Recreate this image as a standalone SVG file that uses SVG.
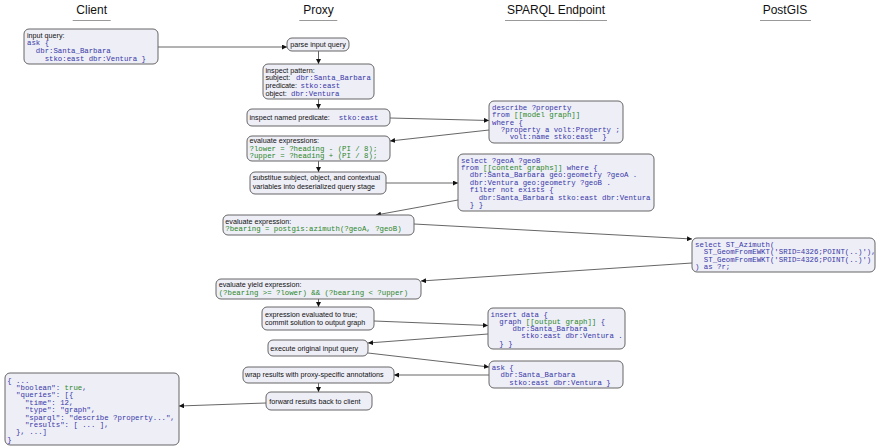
<svg xmlns="http://www.w3.org/2000/svg" width="876" height="448" viewBox="0 0 876 448">
  <defs>
    <style>
      .bg { fill: #ffffff; }
      .hd { font-family: "Liberation Sans", Arial, sans-serif; font-size: 12px; fill: #111; text-anchor: middle; }
      .ul { stroke: #999; stroke-width: 1; }
      .box { fill: #eeeef6; stroke: #666; stroke-width: 1; }
      .t { font-family: "Liberation Sans", Arial, sans-serif; font-size: 7.2px; fill: #111; }
      .c { font-family: "Liberation Mono", "Courier New", monospace; font-size: 7.35px; fill: #3737a8; white-space: pre; }
      .g { fill: #2a872a; }
      .edge { stroke: #555; stroke-width: 0.9; fill: none; marker-end: url(#arr); }
    </style>
    <marker id="arr" viewBox="0 0 6 6" refX="6" refY="3" markerWidth="5" markerHeight="5" markerUnits="userSpaceOnUse" orient="auto">
      <path d="M0,0 L6,3 L0,6 z" fill="#111"/>
    </marker>
  </defs>

  <rect class="bg" x="0" y="0" width="876" height="448"/>

  <!-- lane headers -->
  <g id="lanes">
    <text class="hd" x="91.7" y="13.5">Client</text>
    <line class="ul" x1="72.7" y1="20.5" x2="110.7" y2="20.5"/>
    <text class="hd" x="318.5" y="13.5">Proxy</text>
    <line class="ul" x1="299.3" y1="20.5" x2="337.3" y2="20.5"/>
    <text class="hd" x="556" y="13.5">SPARQL Endpoint</text>
    <line class="ul" x1="505" y1="20.5" x2="607" y2="20.5"/>
    <text class="hd" x="785" y="13.5">PostGIS</text>
    <line class="ul" x1="760" y1="20.5" x2="811" y2="20.5"/>
  </g>

  <!-- connectors -->
  <g id="connectors">
    <line class="edge" x1="158" y1="47" x2="287" y2="47"/>
    <line class="edge" x1="318.5" y1="51" x2="318.5" y2="64"/>
    <line class="edge" x1="318.5" y1="99" x2="318.5" y2="109"/>
    <line class="edge" x1="390" y1="118" x2="489" y2="120.5"/>
    <line class="edge" x1="489" y1="130" x2="390" y2="141"/>
    <line class="edge" x1="318.5" y1="161" x2="318.5" y2="172"/>
    <line class="edge" x1="386" y1="183" x2="458" y2="183"/>
    <line class="edge" x1="458" y1="200" x2="376" y2="215"/>
    <line class="edge" x1="414" y1="224" x2="692" y2="239"/>
    <line class="edge" x1="692" y1="263" x2="421" y2="281"/>
    <line class="edge" x1="318.5" y1="299" x2="318.5" y2="307"/>
    <line class="edge" x1="374" y1="321" x2="488" y2="325.5"/>
    <line class="edge" x1="488" y1="334" x2="368" y2="343"/>
    <line class="edge" x1="368" y1="353" x2="489" y2="367"/>
    <line class="edge" x1="489" y1="375" x2="394" y2="375"/>
    <line class="edge" x1="318.5" y1="383" x2="318.5" y2="392"/>
    <line class="edge" x1="266" y1="403" x2="179" y2="406"/>
  </g>

  <!-- client -->
  <g id="client-query">
    <rect class="box" x="24" y="29" width="134" height="35" rx="5"/>
    <text class="t" x="27" y="37.8">input query:</text>
    <text class="c" x="27" y="45.4" xml:space="preserve">ask {</text>
    <text class="c" x="27" y="53" xml:space="preserve">  dbr:Santa_Barbara</text>
    <text class="c" x="27" y="60.6" xml:space="preserve">    stko:east dbr:Ventura }</text>
  </g>

  <g id="client-result">
    <rect class="box" x="5" y="373" width="174" height="72" rx="5"/>
    <text class="c" x="7.3" y="382.6" xml:space="preserve">{ ...</text>
    <text class="c" x="7.3" y="390" xml:space="preserve">  "boolean": <tspan class="g">true</tspan>,</text>
    <text class="c" x="7.3" y="397.4" xml:space="preserve">  "queries": [{</text>
    <text class="c" x="7.3" y="404.8" xml:space="preserve">    "time": 12,</text>
    <text class="c" x="7.3" y="412.2" xml:space="preserve">    "type": "graph",</text>
    <text class="c" x="7.3" y="419.6" xml:space="preserve">    "sparql": "describe ?property...",</text>
    <text class="c" x="7.3" y="427" xml:space="preserve">    "results": [ ... ],</text>
    <text class="c" x="7.3" y="434.4" xml:space="preserve">  }, ...]</text>
    <text class="c" x="7.3" y="441.8" xml:space="preserve">}</text>
  </g>

  <!-- proxy -->
  <g id="parse">
    <rect class="box" x="287" y="38" width="62" height="13" rx="5"/>
    <text class="t" x="318" y="47" text-anchor="middle">parse input query</text>
  </g>

  <g id="inspect-pattern">
    <rect class="box" x="263" y="64" width="111" height="35" rx="5"/>
    <text class="t" x="265.5" y="72.8">inspect pattern:</text>
    <text class="t" x="265.5" y="80.4">subject:</text>
    <text class="c" x="296" y="80.4">dbr:Santa_Barbara</text>
    <text class="t" x="265.5" y="88">predicate:</text>
    <text class="c" x="300.5" y="88">stko:east</text>
    <text class="t" x="265.5" y="95.7">object:</text>
    <text class="c" x="291" y="95.7">dbr:Ventura</text>
  </g>

  <g id="inspect-predicate">
    <rect class="box" x="247" y="109" width="143" height="17" rx="5"/>
    <text class="t" x="249.5" y="119.5">inspect named predicate:</text>
    <text class="c" x="338.7" y="119.5">stko:east</text>
  </g>

  <g id="evaluate-expressions">
    <rect class="box" x="247" y="136" width="143" height="25" rx="5"/>
    <text class="t" x="249.5" y="143">evaluate expressions:</text>
    <text class="c g" x="249.5" y="150.8">?lower = ?heading - (PI / 8);</text>
    <text class="c g" x="249.5" y="158.4">?upper = ?heading + (PI / 8);</text>
  </g>

  <g id="substitute">
    <rect class="box" x="250" y="172" width="136" height="22" rx="5"/>
    <text class="t" x="252.7" y="180.3">substitue subject, object, and contextual</text>
    <text class="t" x="252.7" y="188.8">variables into deserialized query stage</text>
  </g>

  <g id="evaluate-bearing">
    <rect class="box" x="223" y="215" width="191" height="20" rx="5"/>
    <text class="t" x="225.3" y="223.6">evaluate expression:</text>
    <text class="c g" x="225.3" y="231.4">?bearing = postgis:azimuth(?geoA, ?geoB)</text>
  </g>

  <g id="evaluate-yield">
    <rect class="box" x="216" y="279" width="205" height="20" rx="5"/>
    <text class="t" x="218.7" y="287.2">evaluate yield expression:</text>
    <text class="c g" x="218.7" y="294.8">(?bearing &gt;= ?lower) &amp;&amp; (?bearing &lt; ?upper)</text>
  </g>

  <g id="commit">
    <rect class="box" x="262" y="307" width="112" height="23" rx="5"/>
    <text class="t" x="265" y="317">expression evaluated to true;</text>
    <text class="t" x="265" y="325">commit solution to output graph</text>
  </g>

  <g id="execute">
    <rect class="box" x="268" y="340" width="100" height="16" rx="5"/>
    <text class="t" x="270.3" y="350.6">execute original input query</text>
  </g>

  <g id="wrap">
    <rect class="box" x="243" y="367" width="151" height="16" rx="5"/>
    <text class="t" x="245" y="377.2">wrap results with proxy-specific annotations</text>
  </g>

  <g id="forward">
    <rect class="box" x="266" y="392" width="106" height="18" rx="5"/>
    <text class="t" x="269.3" y="404">forward results back to client</text>
  </g>

  <!-- SPARQL endpoint -->
  <g id="describe">
    <rect class="box" x="489" y="101" width="134" height="42" rx="5"/>
    <text class="c" x="492" y="110" xml:space="preserve">describe ?property</text>
    <text class="c" x="492" y="117.3" xml:space="preserve">from <tspan class="g">[[model graph]]</tspan></text>
    <text class="c" x="492" y="124.6" xml:space="preserve">where {</text>
    <text class="c" x="492" y="131.9" xml:space="preserve">  ?property a volt:Property ;</text>
    <text class="c" x="492" y="139.3" xml:space="preserve">    volt:name stko:east  }</text>
  </g>

  <g id="select-geometry">
    <rect class="box" x="458" y="154" width="196" height="57" rx="5"/>
    <text class="c" x="461" y="162.5" xml:space="preserve">select ?geoA ?geoB</text>
    <text class="c" x="461" y="169.9" xml:space="preserve">from <tspan class="g">[[content graphs]]</tspan> where {</text>
    <text class="c" x="461" y="177.3" xml:space="preserve">  dbr:Santa_Barbara geo:geometry ?geoA .</text>
    <text class="c" x="461" y="184.8" xml:space="preserve">  dbr:Ventura geo:geometry ?geoB .</text>
    <text class="c" x="461" y="192.2" xml:space="preserve">  filter not exists {</text>
    <text class="c" x="461" y="199.6" xml:space="preserve">    dbr:Santa_Barbara stko:east dbr:Ventura</text>
    <text class="c" x="461" y="207" xml:space="preserve">  } }</text>
  </g>

  <g id="insert">
    <rect class="box" x="488" y="308" width="137" height="41" rx="5"/>
    <text class="c" x="490.5" y="316.5" xml:space="preserve">insert data {</text>
    <text class="c" x="490.5" y="323.8" xml:space="preserve">  graph <tspan class="g">[[output graph]]</tspan> {</text>
    <text class="c" x="490.5" y="331.1" xml:space="preserve">     dbr:Santa_Barbara</text>
    <text class="c" x="490.5" y="338.4" xml:space="preserve">       stko:east dbr:Ventura .</text>
    <text class="c" x="490.5" y="345.7" xml:space="preserve">  } }</text>
  </g>

  <g id="ask">
    <rect class="box" x="489" y="361" width="134" height="27" rx="5"/>
    <text class="c" x="491.7" y="369.5" xml:space="preserve">ask {</text>
    <text class="c" x="491.7" y="377" xml:space="preserve">  dbr:Santa_Barbara</text>
    <text class="c" x="491.7" y="384.5" xml:space="preserve">    stko:east dbr:Ventura }</text>
  </g>

  <!-- PostGIS -->
  <g id="azimuth">
    <rect class="box" x="692" y="238" width="183" height="34" rx="5"/>
    <text class="c" x="695" y="246.5" xml:space="preserve">select ST_Azimuth(</text>
    <text class="c" x="695" y="254" xml:space="preserve">  ST_GeomFromEWKT('SRID=4326;POINT(..)'),</text>
    <text class="c" x="695" y="261.5" xml:space="preserve">  ST_GeomFromEWKT('SRID=4326;POINT(..)')</text>
    <text class="c" x="695" y="269" xml:space="preserve">) as ?r;</text>
  </g>
</svg>
